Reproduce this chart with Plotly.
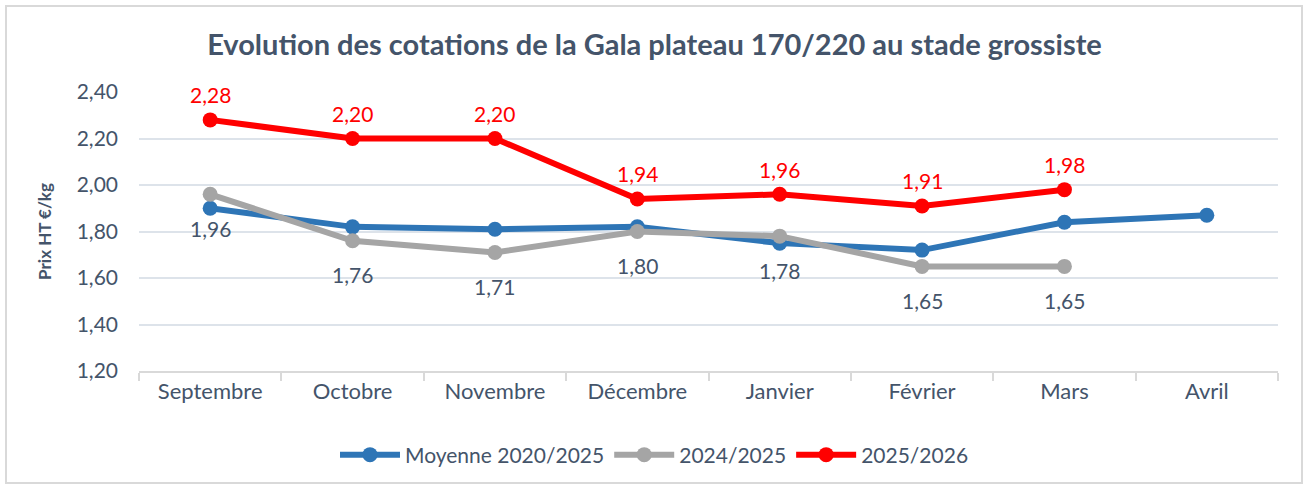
import plotly.graph_objects as go

months = ["Septembre", "Octobre", "Novembre", "Décembre", "Janvier", "Février", "Mars", "Avril"]
moyenne = [1.90, 1.82, 1.81, 1.82, 1.75, 1.72, 1.84, 1.87]
s2024 = [1.96, 1.76, 1.71, 1.80, 1.78, 1.65, 1.65]
s2025 = [2.28, 2.20, 2.20, 1.94, 1.96, 1.91, 1.98]
yticks = [1.2, 1.4, 1.6, 1.8, 2.0, 2.2, 2.4]

FONT = "Lato"
TXT = "#44546A"
W, H = 1309, 489
L, R, T, B = 139, 31, 92, 118
pw, ph = W - L - R, H - T - B

def fr(v):
    return f"{v:.2f}".replace(".", ",")

fig = go.Figure()
fig.add_trace(go.Scatter(x=months, y=moyenne, name="Moyenne 2020/2025", mode="lines+markers",
                         line=dict(color="#2E75B6", width=6), marker=dict(size=15, color="#2E75B6")))
fig.add_trace(go.Scatter(x=months[:len(s2024)], y=s2024, name="2024/2025", mode="lines+markers",
                         line=dict(color="#A5A5A5", width=6), marker=dict(size=15, color="#A5A5A5")))
fig.add_trace(go.Scatter(x=months[:len(s2025)], y=s2025, name="2025/2026", mode="lines+markers",
                         line=dict(color="#FF0000", width=6), marker=dict(size=15, color="#FF0000")))

annotations = []
for m, v in zip(months, s2024):
    annotations.append(dict(x=m, y=v, text=fr(v), showarrow=False, yshift=-34,
                            font=dict(family=FONT, size=21, color=TXT)))
for m, v in zip(months, s2025):
    annotations.append(dict(x=m, y=v, text=fr(v), showarrow=False, yshift=25,
                            font=dict(family=FONT, size=21, color="#FF0000")))

fig.update_layout(
    width=W, height=H,
    margin=dict(l=L, r=R, t=T, b=B),
    paper_bgcolor="white", plot_bgcolor="white",
    title=dict(text="Evolution des cotations de la Gala plateau 170/220 au stade grossiste",
               x=0.5, xanchor="center", y=1 - 45 / H, yanchor="middle",
               font=dict(family=FONT, size=29, color=TXT, weight="bold")),
    font=dict(family=FONT, color=TXT),
    showlegend=True,
    hovermode=False,
    legend=dict(orientation="h", x=0.5 - (L - R) / 2 / pw, xanchor="center", y=-(455 - (T + ph)) / ph,
                yanchor="middle", font=dict(family=FONT, size=21, color=TXT),
                itemwidth=60),
    annotations=annotations,
    shapes=[dict(type="rect", xref="paper", yref="paper",
                 x0=(6 - L) / pw, x1=(1302 - L) / pw, y0=(T + ph - 483) / ph, y1=(T + ph - 6) / ph,
                 line=dict(color="#D9D9D9", width=2), fillcolor="rgba(0,0,0,0)", layer="below")],
)
fig.update_xaxes(showgrid=False, showline=True, linecolor="#D9D9D9", linewidth=2,
                 ticks="outside", tickson="boundaries", ticklen=8, tickcolor="#D9D9D9", tickwidth=2,
                 tickfont=dict(family=FONT, size=22, color=TXT), range=[-0.5, 7.5])
fig.update_yaxes(range=[1.2, 2.4], tickvals=yticks, ticktext=[fr(v) for v in yticks],
                 showgrid=True, gridcolor="#DDE3EA", gridwidth=2, zeroline=False, showline=False,
                 tickfont=dict(family=FONT, size=21, color=TXT), ticks="", ticklabelstandoff=20,
                 title=dict(text="<b>Prix HT €/kg</b>", font=dict(family=FONT, size=17, color=TXT), standoff=20))

fig.write_html("out.html", config={"displayModeBar": False, "staticPlot": True},
               post_script="document.body.style.margin='0';document.body.style.overflow='hidden';")
